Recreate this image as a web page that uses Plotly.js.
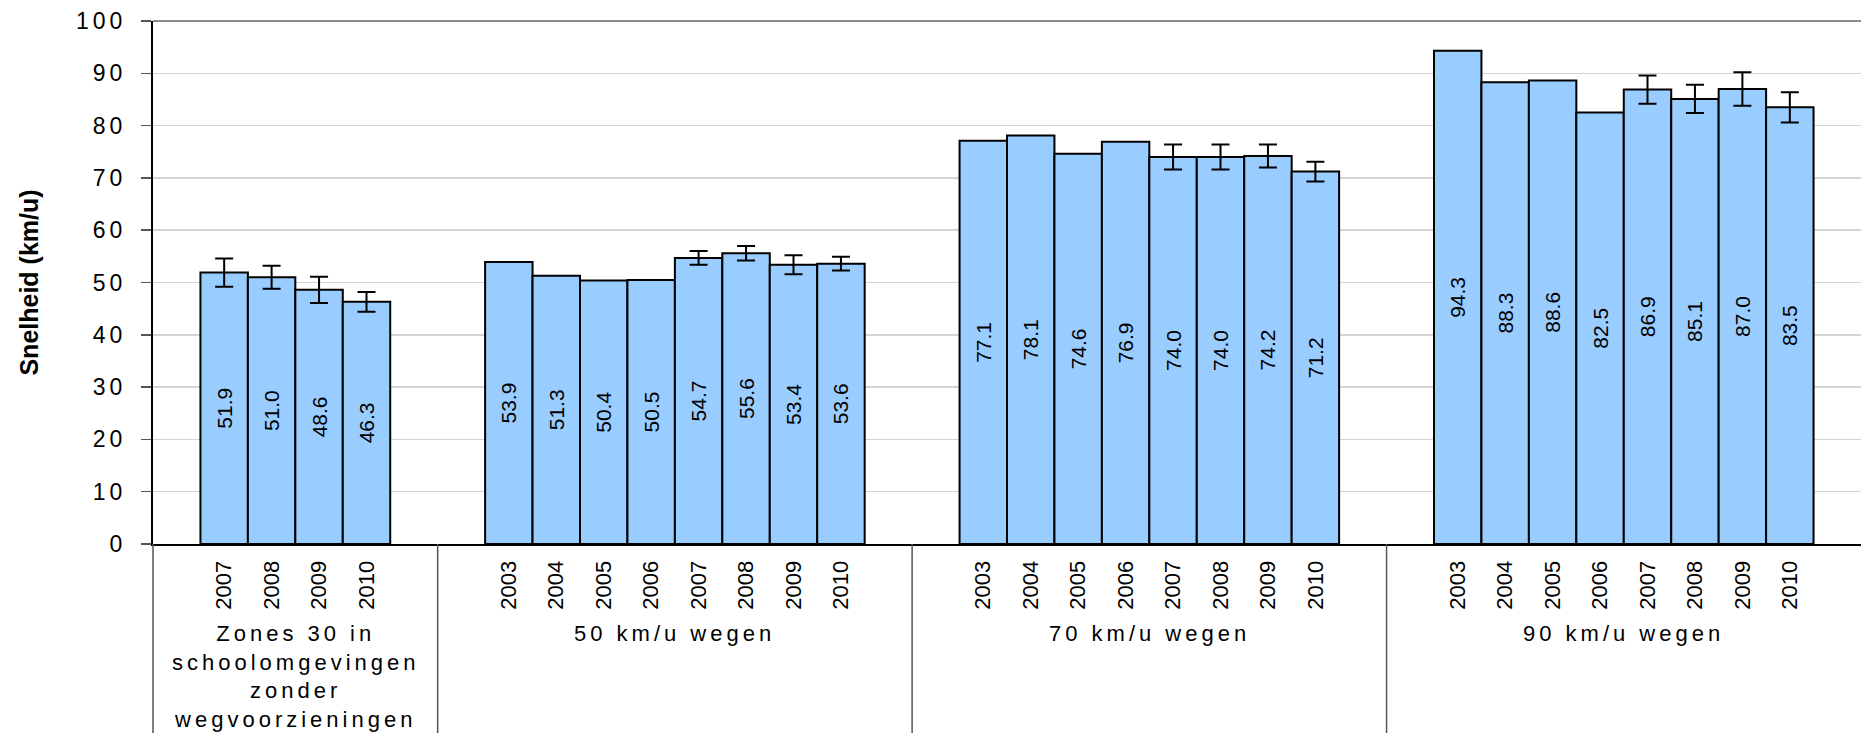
<!DOCTYPE html>
<html>
<head>
<meta charset="utf-8">
<script src="https://cdn.plot.ly/plotly-3.0.1.min.js"></script>
<style>
  html, body { margin: 0; padding: 0; background: #ffffff; }
  #chart { width: 1861px; height: 733px; }
  .ytick text { letter-spacing: 4px; }
  .annotation-text { letter-spacing: 4px; }
</style>
</head>
<body>
<div id="chart"></div>
<script>
// ---- Data ----
const groupLabels = [
  'Zones 30 in<br>schoolomgevingen<br>zonder<br>wegvoorzieningen',
  '50 km/u wegen',
  '70 km/u wegen',
  '90 km/u wegen'
];

const zone30Years  = ['2007', '2008', '2009', '2010'];
const zone30Speed  = [51.9, 51.0, 48.6, 46.3];
const zone30Error  = [2.7, 2.2, 2.5, 1.9];

const road50Years  = ['2003', '2004', '2005', '2006', '2007', '2008', '2009', '2010'];
const road50Speed  = [53.9, 51.3, 50.4, 50.5, 54.7, 55.6, 53.4, 53.6];
const road50Error  = [null, null, null, null, 1.3, 1.4, 1.8, 1.3];

const road70Years  = ['2003', '2004', '2005', '2006', '2007', '2008', '2009', '2010'];
const road70Speed  = [77.1, 78.1, 74.6, 76.9, 74.0, 74.0, 74.2, 71.2];
const road70Error  = [null, null, null, null, 2.4, 2.4, 2.2, 1.9];

const road90Years  = ['2003', '2004', '2005', '2006', '2007', '2008', '2009', '2010'];
const road90Speed  = [94.3, 88.3, 88.6, 82.5, 86.9, 85.1, 87.0, 83.5];
const road90Error  = [null, null, null, null, 2.7, 2.7, 3.2, 2.9];

const groupYears  = [zone30Years, road50Years, road70Years, road90Years];
const groupSpeeds = [zone30Speed, road50Speed, road70Speed, road90Speed];
const groupErrors = [zone30Error, road50Error, road70Error, road90Error];

// ---- Build slot positions: one empty slot on each side of every group ----
const xs = [], ys = [], errs = [], tickText = [];
const shortTicks = [], groupBounds = [], groupCenters = [];
let slot = 0;
groupYears.forEach((yrs, g) => {
  const start = slot;
  groupBounds.push(start);
  slot += 1;                    // empty slot
  yrs.forEach((yr, i) => {
    xs.push(slot + 0.5);
    ys.push(groupSpeeds[g][i]);
    const e = groupErrors[g][i];
    errs.push(e == null ? NaN : e);
    tickText.push(yr);
    shortTicks.push(slot);
    slot += 1;
  });
  shortTicks.push(slot);
  slot += 1;                    // empty slot
  groupCenters.push((start + slot) / 2);
});
const totalSlots = slot;
const xRange = [0, totalSlots];

const FONT = 'Liberation Sans, Arial, Helvetica, sans-serif';
const plotH = 733 - 21 - 189;

const shapes = [];
groupBounds.forEach(b => {
  shapes.push({
    type: 'line', xref: 'paper', yref: 'paper',
    x0: b / totalSlots, x1: b / totalSlots, y0: 0, y1: -189 / plotH,
    line: { color: '#555555', width: 1.5 }
  });
});
shapes.push({
  type: 'line', xref: 'paper', yref: 'paper',
  x0: 0, x1: 1, y0: 1, y1: 1,
  line: { color: '#8c8c8c', width: 2 }
});

const annotations = groupLabels.map((lab, g) => ({
  text: lab,
  xref: 'paper', yref: 'paper',
  x: groupCenters[g] / totalSlots,
  y: -75 / plotH,
  xanchor: 'center', yanchor: 'top',
  showarrow: false,
  align: 'center',
  font: { family: FONT, size: 22, color: '#000000' }
}));

const barTrace = {
  type: 'bar',
  x: xs,
  y: ys,
  width: 1,
  marker: { color: '#99CCFF', line: { color: '#000000', width: 2 } },
  text: ys.map(v => v.toFixed(1)),
  textposition: 'inside',
  insidetextanchor: 'middle',
  textangle: -90,
  insidetextfont: { family: FONT, size: 21, color: '#000000' },
  error_y: {
    type: 'data', array: errs, visible: true,
    color: '#000000', thickness: 2, width: 9
  },
  hoverinfo: 'skip',
  showlegend: false
};

const layout = {
  width: 1861,
  height: 733,
  margin: { l: 153, r: 0, t: 21, b: 189, pad: 0 },
  paper_bgcolor: '#ffffff',
  plot_bgcolor: '#ffffff',
  bargap: 0,
  showlegend: false,
  font: { family: FONT, color: '#000000' },
  xaxis: {
    range: xRange,
    tickvals: xs,
    ticktext: tickText,
    tickangle: -90,
    ticks: '',
    tickfont: { family: FONT, size: 22, color: '#000000' },
    ticklabelstandoff: 6,
    showgrid: false,
    zeroline: false,
    showline: true,
    linecolor: '#000000',
    linewidth: 2,
    fixedrange: true
  },
  xaxis2: {
    overlaying: 'x',
    anchor: 'y',
    side: 'bottom',
    range: xRange,
    tickvals: shortTicks,
    ticks: 'outside',
    ticklen: 61,
    tickwidth: 1.5,
    tickcolor: '#333333',
    showticklabels: false,
    showgrid: false,
    zeroline: false,
    showline: false,
    fixedrange: true
  },
  yaxis: {
    range: [0, 100],
    dtick: 10,
    ticks: 'outside',
    ticklen: 10,
    tickwidth: 1.5,
    tickcolor: '#555555',
    tickfont: { family: FONT, size: 23, color: '#000000' },
    ticklabelstandoff: 10,
    showline: true,
    linecolor: '#000000',
    linewidth: 2,
    showgrid: true,
    gridcolor: '#d4d4d4',
    gridwidth: 1.5,
    zeroline: false,
    fixedrange: true,
    title: {
      text: '<b>Snelheid (km/u)</b>',
      font: { family: FONT, size: 25, color: '#000000' },
      standoff: 30
    }
  },
  shapes: shapes,
  annotations: annotations
};

Plotly.newPlot('chart', [barTrace], layout, { staticPlot: true, displayModeBar: false });
</script>
</body>
</html>
